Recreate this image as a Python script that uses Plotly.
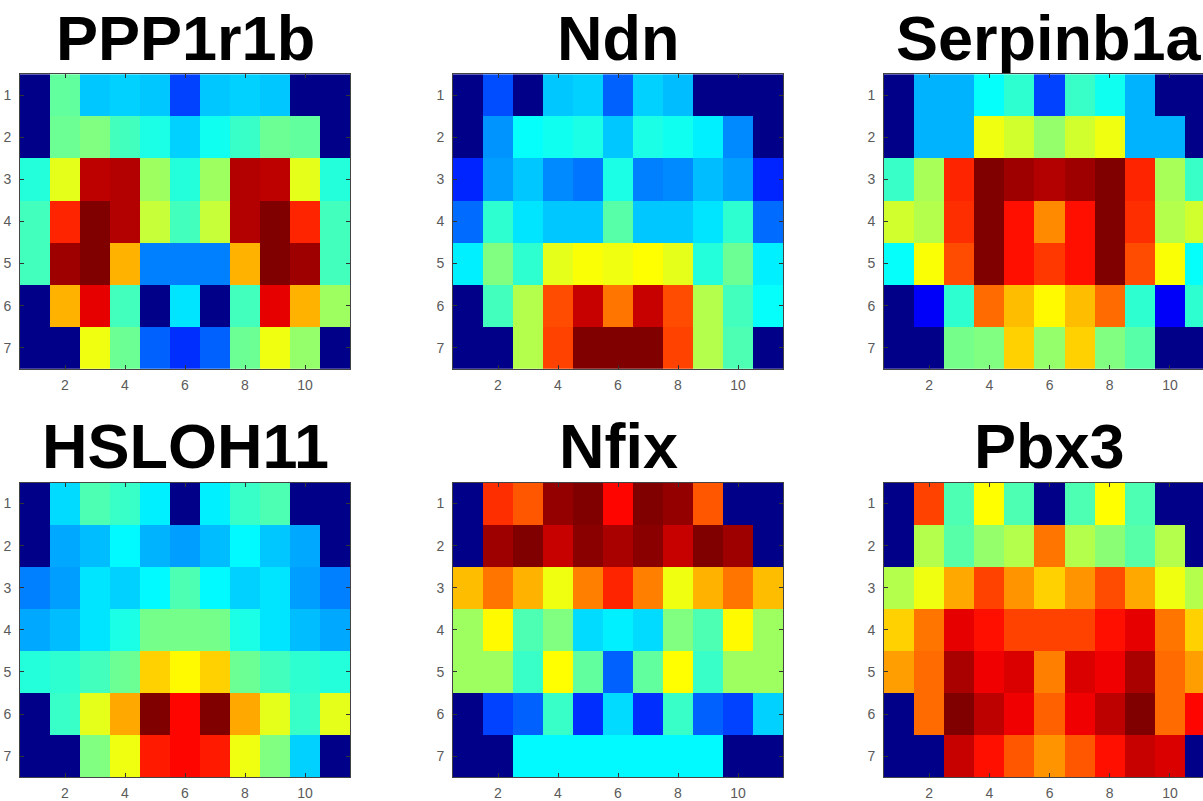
import plotly.graph_objects as go

# Gene names shown above each expression map
genes = ["PPP1r1b", "Ndn", "Serpinb1a", "HSLOH11", "Nfix", "Pbx3"]

# Column / row indices of the 11 x 7 grid
cols = list(range(1, 12))
rows = list(range(1, 8))
x_ticks = [2, 4, 6, 8, 10]
y_ticks = [1, 2, 3, 4, 5, 6, 7]

# Normalised expression per grid cell (rows top to bottom)
ppp1r1b = [
    [0.00, 0.47, 0.32, 0.33, 0.32, 0.19, 0.32, 0.33, 0.32, 0.00, 0.00],
    [0.00, 0.48, 0.50, 0.44, 0.40, 0.33, 0.39, 0.43, 0.48, 0.47, 0.00],
    [0.41, 0.60, 0.94, 0.95, 0.53, 0.41, 0.53, 0.95, 0.94, 0.60, 0.41],
    [0.44, 0.84, 1.00, 0.95, 0.57, 0.44, 0.57, 0.95, 1.00, 0.84, 0.44],
    [0.44, 0.97, 1.00, 0.70, 0.25, 0.25, 0.25, 0.70, 1.00, 0.97, 0.44],
    [0.00, 0.70, 0.90, 0.44, 0.00, 0.35, 0.00, 0.44, 0.90, 0.70, 0.53],
    [0.00, 0.00, 0.61, 0.48, 0.22, 0.17, 0.22, 0.48, 0.61, 0.52, 0.00],
]
ndn = [
    [0.00, 0.20, 0.00, 0.32, 0.33, 0.22, 0.33, 0.31, 0.00, 0.00, 0.00],
    [0.00, 0.27, 0.38, 0.39, 0.40, 0.32, 0.40, 0.39, 0.36, 0.26, 0.00],
    [0.16, 0.28, 0.32, 0.26, 0.24, 0.40, 0.25, 0.26, 0.31, 0.28, 0.16],
    [0.23, 0.42, 0.35, 0.32, 0.32, 0.46, 0.32, 0.32, 0.35, 0.42, 0.23],
    [0.36, 0.50, 0.42, 0.60, 0.62, 0.61, 0.625, 0.60, 0.41, 0.48, 0.36],
    [0.00, 0.44, 0.55, 0.80, 0.93, 0.76, 0.93, 0.80, 0.55, 0.44, 0.38],
    [0.00, 0.00, 0.55, 0.81, 1.00, 1.00, 1.00, 0.81, 0.55, 0.45, 0.00],
]
serpinb1a = [
    [0.00, 0.30, 0.30, 0.38, 0.42, 0.19, 0.43, 0.39, 0.30, 0.00, 0.00],
    [0.00, 0.30, 0.30, 0.61, 0.58, 0.52, 0.58, 0.61, 0.30, 0.30, 0.00],
    [0.43, 0.54, 0.84, 1.00, 0.97, 0.95, 0.97, 1.00, 0.84, 0.54, 0.43],
    [0.58, 0.55, 0.83, 1.00, 0.86, 0.74, 0.86, 1.00, 0.83, 0.55, 0.58],
    [0.38, 0.62, 0.80, 1.00, 0.86, 0.82, 0.86, 1.00, 0.80, 0.62, 0.38],
    [0.00, 0.12, 0.42, 0.77, 0.69, 0.63, 0.69, 0.77, 0.42, 0.12, 0.42],
    [0.00, 0.00, 0.49, 0.50, 0.67, 0.52, 0.67, 0.50, 0.46, 0.00, 0.00],
]
hsloh11 = [
    [0.00, 0.34, 0.45, 0.43, 0.36, 0.00, 0.36, 0.43, 0.45, 0.00, 0.00],
    [0.00, 0.29, 0.31, 0.37, 0.30, 0.28, 0.31, 0.37, 0.32, 0.29, 0.00],
    [0.25, 0.28, 0.35, 0.33, 0.37, 0.45, 0.37, 0.33, 0.35, 0.28, 0.25],
    [0.29, 0.31, 0.35, 0.40, 0.49, 0.49, 0.49, 0.40, 0.35, 0.31, 0.29],
    [0.41, 0.42, 0.44, 0.48, 0.67, 0.63, 0.67, 0.48, 0.44, 0.42, 0.41],
    [0.00, 0.43, 0.60, 0.71, 1.00, 0.87, 1.00, 0.71, 0.60, 0.43, 0.60],
    [0.00, 0.00, 0.50, 0.61, 0.85, 0.87, 0.85, 0.61, 0.50, 0.33, 0.00],
]
nfix = [
    [0.00, 0.83, 0.79, 0.98, 1.00, 0.87, 1.00, 0.98, 0.79, 0.00, 0.00],
    [0.00, 0.97, 1.00, 0.93, 0.99, 0.96, 0.99, 0.93, 1.00, 0.97, 0.00],
    [0.69, 0.76, 0.70, 0.61, 0.75, 0.84, 0.75, 0.61, 0.70, 0.76, 0.69],
    [0.53, 0.63, 0.45, 0.50, 0.34, 0.36, 0.34, 0.50, 0.45, 0.63, 0.53],
    [0.53, 0.53, 0.43, 0.625, 0.47, 0.22, 0.47, 0.625, 0.43, 0.53, 0.53],
    [0.00, 0.19, 0.22, 0.43, 0.17, 0.34, 0.17, 0.43, 0.22, 0.19, 0.33],
    [0.00, 0.00, 0.37, 0.37, 0.37, 0.37, 0.37, 0.37, 0.37, 0.00, 0.00],
]
pbx3 = [
    [0.00, 0.81, 0.45, 0.625, 0.45, 0.00, 0.45, 0.625, 0.45, 0.00, 0.00],
    [0.00, 0.55, 0.46, 0.52, 0.55, 0.76, 0.55, 0.51, 0.46, 0.55, 0.00],
    [0.55, 0.61, 0.71, 0.81, 0.73, 0.67, 0.73, 0.80, 0.71, 0.61, 0.55],
    [0.67, 0.76, 0.90, 0.86, 0.81, 0.81, 0.81, 0.86, 0.90, 0.76, 0.67],
    [0.72, 0.77, 0.96, 0.89, 0.91, 0.75, 0.91, 0.89, 0.96, 0.77, 0.72],
    [0.00, 0.77, 1.00, 0.94, 0.89, 0.78, 0.89, 0.94, 1.00, 0.77, 0.87],
    [0.00, 0.00, 0.93, 0.86, 0.79, 0.73, 0.79, 0.86, 0.93, 0.91, 0.00],
]
maps = [ppp1r1b, ndn, serpinb1a, hsloh11, nfix, pbx3]

# MATLAB-style "jet" colormap
jet = [
    [0.000, "rgb(0,0,136)"],
    [0.125, "rgb(0,0,255)"],
    [0.375, "rgb(0,255,255)"],
    [0.625, "rgb(255,255,0)"],
    [0.875, "rgb(255,0,0)"],
    [1.000, "rgb(128,0,0)"],
]

W, H = 1203, 801
# panel pixel boxes: (left, right, top, bottom)
x_boxes = [(20, 350), (453, 783), (884, 1203)]
y_boxes = [(75, 373), (488, 786)]
title_mid = [38.5, 451]
cell_w = 30.1

fig = go.Figure()
annotations = []
for i, (gene, z) in enumerate(zip(genes, maps)):
    r, c = divmod(i, 3)
    n = i + 1
    xa = "x" if n == 1 else f"x{n}"
    ya = "y" if n == 1 else f"y{n}"
    fig.add_trace(go.Heatmap(
        z=z, x=cols, y=rows, colorscale=jet, zmin=0, zmax=1,
        showscale=False, xaxis=xa, yaxis=ya, hoverinfo="skip",
    ))
    left, right = x_boxes[c]
    top, bottom = y_boxes[r]
    clipped = (c == 2)
    x_hi = 0.5 + (right - left) / cell_w if clipped else 11.5
    axis_common = dict(
        ticks="inside", ticklen=4, tickwidth=1, tickcolor="#333333",
        showline=True, linecolor="#444444", linewidth=1,
        showgrid=False, zeroline=False,
        tickfont=dict(family="Arial", size=14, color="#5a5a5a"),
    )
    xkey = "xaxis" if n == 1 else f"xaxis{n}"
    ykey = "yaxis" if n == 1 else f"yaxis{n}"
    fig.update_layout(**{
        xkey: dict(
            domain=[left / W, right / W], anchor=ya,
            range=[0.5, x_hi], tickmode="array", tickvals=x_ticks,
            mirror="ticks", ticklabelstandoff=3, **axis_common,
        ),
        ykey: dict(
            domain=[1 - bottom / H, 1 - top / H], anchor=xa,
            range=[7.5, 0.5], tickmode="array", tickvals=y_ticks,
            mirror=False if clipped else "ticks", ticklabelstandoff=5,
            **axis_common,
        ),
    })
    annotations.append(dict(
        text=f"<b>{gene}</b>", xref="paper", yref="paper",
        x=(left + 165) / W, y=1 - title_mid[r] / H,
        xanchor="center", yanchor="middle", showarrow=False,
        font=dict(family="Arial", size=63, color="black"),
    ))

fig.update_layout(
    width=W, height=H, margin=dict(l=0, r=0, t=0, b=0),
    paper_bgcolor="white", plot_bgcolor="white",
    annotations=annotations, showlegend=False,
)

fig.write_html("out.html")
